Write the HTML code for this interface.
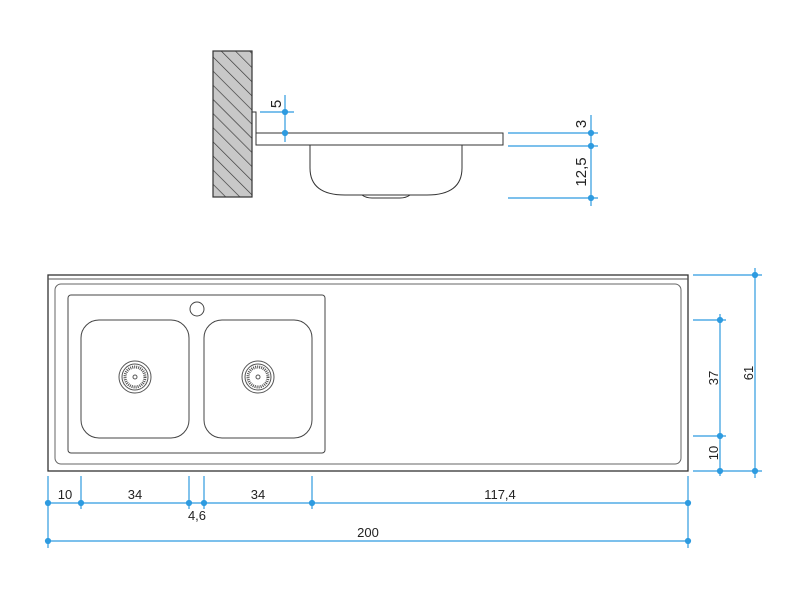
<!DOCTYPE html>
<html><head><style>body{margin:0;background:#fff}svg{display:block}</style></head><body>
<svg width="800" height="600" viewBox="0 0 800 600" xmlns="http://www.w3.org/2000/svg" font-family="Liberation Sans, sans-serif">
<defs>
<pattern id="h" width="10" height="10" patternUnits="userSpaceOnUse" patternTransform="rotate(-45)">
<rect width="10" height="10" fill="#c8c8c8"/><line x1="0" y1="0" x2="0" y2="10" stroke="#333" stroke-width="1.3"/>
</pattern>
</defs>
<!-- side view -->
<rect x="213" y="51" width="39" height="146" fill="url(#h)" stroke="#333" stroke-width="1.2"/>
<path d="M252 112 H256 V145" fill="none" stroke="#333" stroke-width="1"/>
<rect x="256" y="133" width="247" height="12" fill="#fff" stroke="#333" stroke-width="1"/>
<path d="M310 145 V168 Q310 195 345 195 H427 Q462 195 462 168 V145" fill="none" stroke="#333" stroke-width="1"/>
<path d="M362 195 Q366 198 372 198 H400 Q406 198 410 195" fill="none" stroke="#333" stroke-width="1"/>
<g stroke="#2e9be0" stroke-width="1.2" fill="#2e9be0">
<line x1="285" y1="95" x2="285" y2="142"/><line x1="260" y1="112" x2="294" y2="112"/>
<circle cx="285" cy="112" r="2.5"/><circle cx="285" cy="133" r="2.5"/>
<line x1="508" y1="133" x2="598" y2="133"/><line x1="508" y1="146" x2="598" y2="146"/><line x1="508" y1="198" x2="598" y2="198"/>
<line x1="591" y1="115" x2="591" y2="206"/>
<circle cx="591" cy="133" r="2.5"/><circle cx="591" cy="146" r="2.5"/><circle cx="591" cy="198" r="2.5"/>
</g>
<g font-size="15" fill="#222">
<text transform="translate(281,104) rotate(-90)" text-anchor="middle">5</text>
<text transform="translate(586,124) rotate(-90)" text-anchor="middle">3</text>
<text transform="translate(586,172) rotate(-90)" text-anchor="middle">12,5</text>
</g>
<!-- top view -->
<rect x="48" y="275" width="640" height="196" fill="#fff" stroke="#333" stroke-width="1.3"/>
<line x1="48" y1="279" x2="688" y2="279" stroke="#555" stroke-width="1"/>
<rect x="55" y="284" width="626" height="180" rx="6" fill="none" stroke="#666" stroke-width="1"/>
<rect x="68" y="295" width="257" height="158" rx="3" fill="none" stroke="#444" stroke-width="1"/>
<rect x="81" y="320" width="108" height="118" rx="18" fill="none" stroke="#444" stroke-width="1"/>
<rect x="204" y="320" width="108" height="118" rx="18" fill="none" stroke="#444" stroke-width="1"/>
<circle cx="197" cy="309" r="7" fill="none" stroke="#444"/>
<g fill="none" stroke="#555">
<circle cx="135" cy="377" r="16"/><circle cx="135" cy="377" r="13"/><circle cx="135" cy="377" r="10" stroke-dasharray="1 1" stroke-width="3"/><circle cx="135" cy="377" r="2"/>
<circle cx="258" cy="377" r="16"/><circle cx="258" cy="377" r="13"/><circle cx="258" cy="377" r="10" stroke-dasharray="1 1" stroke-width="3"/><circle cx="258" cy="377" r="2"/>
</g>
<g stroke="#2e9be0" stroke-width="1.2" fill="#2e9be0">
<line x1="48" y1="476" x2="48" y2="548"/>
<line x1="81" y1="476" x2="81" y2="509"/><line x1="189" y1="476" x2="189" y2="509"/><line x1="204" y1="476" x2="204" y2="509"/><line x1="312" y1="476" x2="312" y2="509"/>
<line x1="688" y1="476" x2="688" y2="548"/>
<line x1="48" y1="503" x2="688" y2="503"/><line x1="48" y1="541" x2="688" y2="541"/>
<circle cx="48" cy="503" r="2.5"/><circle cx="81" cy="503" r="2.5"/><circle cx="189" cy="503" r="2.5"/><circle cx="204" cy="503" r="2.5"/><circle cx="312" cy="503" r="2.5"/><circle cx="688" cy="503" r="2.5"/>
<circle cx="48" cy="541" r="2.5"/><circle cx="688" cy="541" r="2.5"/>
<line x1="693" y1="275" x2="762" y2="275"/><line x1="693" y1="471" x2="762" y2="471"/>
<line x1="693" y1="320" x2="726" y2="320"/><line x1="693" y1="436" x2="726" y2="436"/>
<line x1="755" y1="268" x2="755" y2="478"/><line x1="720" y1="314" x2="720" y2="476"/>
<circle cx="755" cy="275" r="2.5"/><circle cx="755" cy="471" r="2.5"/>
<circle cx="720" cy="320" r="2.5"/><circle cx="720" cy="436" r="2.5"/><circle cx="720" cy="471" r="2.5"/>
</g>
<g font-size="13" fill="#222" text-anchor="middle">
<text x="65" y="499">10</text><text x="135" y="499">34</text><text x="258" y="499">34</text><text x="500" y="499">117,4</text>
<text x="197" y="520">4,6</text><text x="368" y="537">200</text>
<text transform="translate(718,378) rotate(-90)">37</text>
<text transform="translate(718,453) rotate(-90)">10</text>
<text transform="translate(753,373) rotate(-90)">61</text>
</g>
</svg>
</body></html>
